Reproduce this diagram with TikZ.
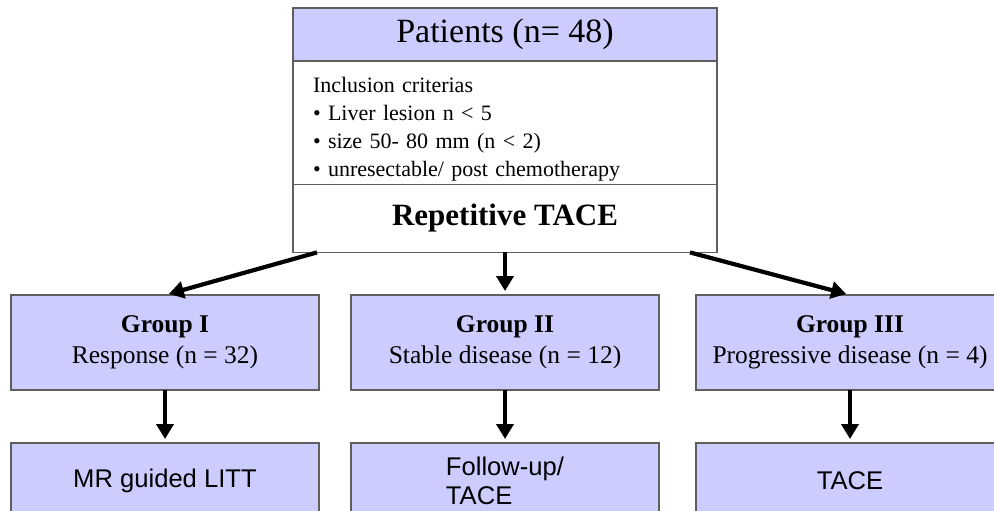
\documentclass[tikz,border=0pt]{standalone}
\usepackage{fontspec}
\setmainfont{Liberation Serif}
\setsansfont{Liberation Sans}
\usetikzlibrary{positioning,arrows.meta}
\definecolor{lav}{RGB}{204,204,255}
\definecolor{edge}{RGB}{95,95,95}
\tikzset{
  hd/.style={rectangle, minimum width=424pt, minimum height=53pt, outer sep=0pt, text centered, draw=edge, fill=lav, font=\fontsize{34}{38}\selectfont},
  crit/.style={rectangle, minimum width=424pt, minimum height=122pt, outer sep=0pt, inner xsep=20pt, text width=384pt, align=left, draw=edge, fill=white, font=\fontsize{22}{28}\selectfont},
  tc/.style={rectangle, minimum width=424pt, minimum height=68pt, outer sep=0pt, text centered, draw=edge, fill=white, font=\fontsize{31}{34}\selectfont\bfseries},
  grp/.style={rectangle, minimum width=308pt, minimum height=95pt, outer sep=0pt, align=center, draw=edge, fill=lav, font=\fontsize{25.5}{31}\selectfont},
  res/.style={rectangle, minimum width=308pt, minimum height=75pt, outer sep=0pt, align=center, draw=edge, fill=lav, font=\sffamily\fontsize{25.6}{29}\selectfont},
  ar/.style={line width=4.2pt, -{Triangle[length=15pt,width=17pt]}, shorten >=4pt},
  node distance=53pt
}
\begin{document}
\begin{tikzpicture}[x=1pt, y=-1pt, line width=1.2pt]
	\useasboundingbox (0,0) rectangle (994,511);
	\clip (0,0) rectangle (994,511);
	\node[hd] (pat) at (505,34.5) {Patients (n= 48)};
	\node[crit, below=0pt of pat] (inc) {\rule{0pt}{28pt}Inclusion criterias\\
		\textbullet\ Liver lesion n < 5\\
		\textbullet\ size 50- 80 mm (n < 2)\\
		\textbullet\ unresectable/ post chemotherapy};
	\node[tc, below=0pt of inc] (rep) {Repetitive TACE};
	%
	\node[grp] (g2) at (505,342.5) {\textbf{Group II}\\Stable disease (n = 12)};
	\node[grp, left=32pt of g2] (g1) {\textbf{Group I}\\Response (n = 32)};
	\node[grp, right=37pt of g2] (g3) {\textbf{Group III}\\Progressive disease (n = 4)};
	\node[res, below=of g1] (b1) {MR guided LITT};
	\node[res, below=of g2, align=left] (b2) {Follow-up/\\TACE};
	\node[res, below=of g3] (b3) {TACE};
	%
	\draw[ar] ([xshift=24pt]rep.south west) -- (g1.north);
	\draw[ar] (rep.south) -- (g2.north);
	\draw[ar] ([xshift=-27pt]rep.south east) -- (g3.north);
	\draw[ar] (g1) -- (b1);
	\draw[ar] (g2) -- (b2);
	\draw[ar] (g3) -- (b3);
\end{tikzpicture}
\end{document}
